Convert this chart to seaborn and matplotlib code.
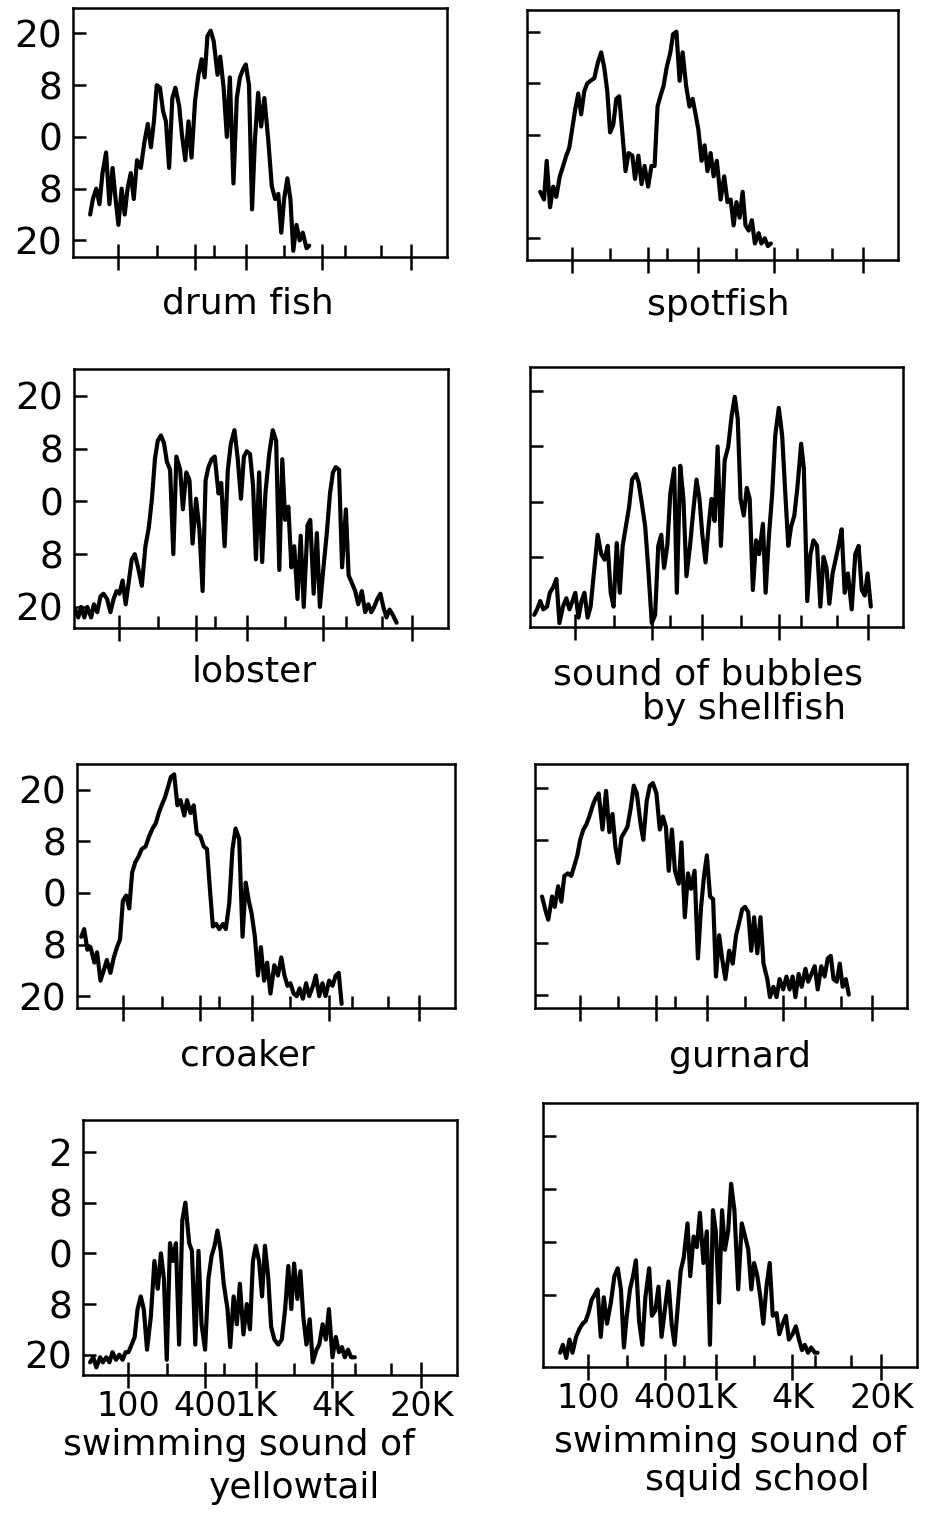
import matplotlib
matplotlib.use('Agg')
import matplotlib.pyplot as plt
from matplotlib.ticker import NullFormatter
import seaborn as sns

sns.set_theme(style='ticks')
plt.rcParams['font.family'] = ['DejaVu Sans']

# frequency grid (Hz), 1/40 decade steps, shared by all spectra
freq_hz = [45, 47.5, 50, 53, 56, 60, 63, 67, 71, 75, 80, 85, 90, 95,
           100, 106, 112, 118, 125, 132, 140, 150, 160, 170, 180, 190, 200, 212, 224, 236,
           250, 265, 280, 300, 315, 335, 355, 375, 400, 425, 450, 475, 500, 530, 560, 600,
           630, 670, 710, 750, 800, 850, 900, 950,
           1000, 1060, 1120, 1180, 1250, 1320, 1400, 1500, 1600, 1700, 1800, 1900, 2000, 2120,
           2240, 2360, 2500, 2650, 2800, 3000, 3150, 3350, 3550, 3750, 4000, 4250, 4500, 4750,
           5000, 5300, 5600, 6000, 6300, 6700, 7100, 7500, 8000, 8500, 9000, 9500,
           10000, 10600, 11200, 11800, 12500, 13200, 14000, 15000, 16000, 17000, 18000, 19000,
           20000, 21200]

# spectra (dB), each one starting at the given grid frequency
drum_start = 60
drum_db = [-15, -12, -10, -13, -7, -3, -13, -6, -12, -17,
           -10, -15, -10, -7, -12, -4.5, -6, -1, 2.5, -2,
           3, 10, 9.5, 5, 3, -6, 7.5, 9.5, 6, 0.5,
           -4.5, 3, -4, 7, 12, 15, 11.5, 19.5, 20.5, 18.5,
           12, 15.5, 9.5, 0, 11.5, -9, 7.5, 11.5, 13, 14,
           10, -14, -0.5, 8.5, 2, 7.5, -0.5, -9.5, -12, -11,
           -18.5, -12, -8, -12, -22, -17, -20, -18.5, -21.5, -21]

spot_start = 56
spot_db = [-11, -12.5, -5, -14, -10, -12, -8, -6, -4, -2.5,
           1, 5, 8, 4, 8.5, 10, 10.5, 11, 14, 16,
           13, 8.5, 0.5, 2, 7, 7.5, 0.5, -7, -3.5, -4,
           -8.5, -4, -9.5, -6, -10, -6, -6, 5.5, 7.5, 9.5,
           13, 16, 19.5, 20, 10.5, 16, 9.5, 5.5, 7, 4,
           1, -5, -2, -7, -3.5, -8, -5, -12.5, -8, -13,
           -12.5, -17.5, -13, -16, -11, -17.5, -18.5, -16.5, -21, -19,
           -21, -20, -21.5, -21]

lobster_start = 45
lobster_db = [-20.5, -22, -20, -22, -20, -22, -19.5, -21, -18, -17.5,
              -18.5, -21, -18.5, -17, -17.5, -15, -19.5, -15.5, -11, -10,
              -12.5, -16, -8.5, -5, 0.5, 8, 11.5, 12.5, 11, 7.5,
              6, -10, 8.5, 6, -1.5, 5.5, 4, -8, 0.5, -5.5,
              -17, 4, 6.5, 8, 8.5, 1.5, 3.5, -8.5, 6, 11,
              13.5, 8, 0.5, 8.5, 9.5, 9, 3, -11, 5.5, -11.5,
              1.5, 9, 13.5, 11.5, -13, 8, -3.5, -1, -12.5, -8.5,
              -18.5, -6.5, -20, -4.5, -3.5, -17.5, -6, -20, -12.5, -6,
              1.5, 5.5, 6.5, 6, -12.5, -1.5, -14, -15.5, -17, -19.5,
              -17, -21, -19.5, -21, -20, -18.5, -17.5, -20, -22, -20.5,
              -21.5, -23]

bubbles_start = 47.5
bubbles_db = [-20.5, -19.5, -18, -19.5, -19, -16.5, -15.5, -14, -22, -19,
              -17.5, -19.5, -18, -16.5, -21, -18, -16.5, -21, -19, -13,
              -6, -9.5, -10.5, -8, -16.5, -19, -7.5, -16.5, -8, -4.5,
              -1, 4, 5, 3.5, -0.5, -4.5, -12, -22, -20.5, -8,
              -6, -12, -8, 1.5, 6, -16.5, 6.5, 0.5, -13.5, -8,
              -1.5, 4, 0.5, -6, -11, -4.5, 0.5, -3.5, 10, -8,
              7.5, 10, 15.5, 19, 15, 0.5, -2.5, 2.5, 0.5, -16,
              -7, -9.5, -4, -16.5, -6, 1.5, 12, 17, 12, 1.5,
              -8, -4.5, -2.5, 2.5, 10.5, 6, -18, -9.5, -7, -8,
              -19, -10, -12, -18.5, -13, -10.5, -8, -5, -16.5, -13,
              -19.5, -9.5, -8, -16, -17, -13, -19]

croaker_start = 47.5
croaker_db = [-8.5, -7, -11, -10.5, -13.5, -11.5, -17, -15, -13, -15.5,
              -12.5, -10.5, -9, -1.5, -0.5, -3, 4, 6, 7, 8.5,
              9, 11, 12.5, 13.5, 15.5, 17, 18.5, 20.5, 22.5, 23,
              17, 18, 15, 18, 15.5, 17, 11.5, 11, 9, 8.5,
              0.5, -6.5, -6, -7, -6, -7, -2, 8.5, 12.5, 10.5,
              -8.5, 2, -1.5, -4, -8.5, -16, -10.5, -17, -13.5, -19.5,
              -14, -16, -12.5, -16, -18, -17.5, -19.5, -20, -18.5, -20.5,
              -17.5, -20, -18, -16, -20, -17.5, -20, -17, -18, -16,
              -15.5, -21.5]

gurnard_start = 50
gurnard_db = [-1, -3.5, -5.5, -1, -3, 1, -2, 3, 3.5, 3,
              5, 7, 10, 12, 13, 14.5, 16.5, 18, 19, 12,
              19.5, 11.5, 15, 8.5, 5.5, 10.5, 11.5, 12.5, 16, 20.5,
              19, 13, 10, 17.5, 20.5, 21, 19, 12, 14.5, 12.5,
              4, 12, 4, 1.5, 9.5, -5, 3.5, 0.5, 4, -13,
              -3, 3, 7, -1, -1.5, -16.5, -8.5, -13, -17, -11.5,
              -14, -8.5, -6, -3.5, -3, -4, -11.5, -5, -12, -5,
              -14, -17, -20.5, -18.5, -20.5, -17, -19, -16.5, -19, -16.5,
              -20.5, -16, -18.5, -15, -17.5, -16, -14.5, -19, -14.5, -16.5,
              -13, -12.5, -17, -17.5, -14, -18.5, -17, -20]

yellowtail_start = 50
yellowtail_db = [-21.5, -20.5, -22.5, -20.5, -21.5, -20.5, -21.5, -19.5, -21, -20,
                 -21, -19.5, -19.5, -18, -16.5, -11, -8.5, -11, -19, -12.5,
                 -1.5, -7, 0, -5, -21, 2, -1.5, 2, -18, 6.5,
                 10, 2, 0.5, -18, 0.5, -14, -19, -5, -0.5, 1.5,
                 4.5, 0.5, -6, -11, -18.5, -8.5, -14, -6, -16, -10,
                 -15, -1.5, 1.5, -1.5, -8.5, 1.5, -4.5, -14.5, -17, -18,
                 -17, -11, -2.5, -11, -2, -9, -3.5, -12.5, -18, -13,
                 -21.5, -19, -18, -14, -17, -11, -20.5, -16.5, -19.5, -18.5,
                 -20.5, -19, -20.5, -20.5]

squid_start = 60
squid_db = [-21, -19.5, -22, -18.5, -21, -18, -16.5, -15.5, -15, -13.5,
            -11, -10, -9, -18, -10.5, -15.5, -11.5, -6.5, -5, -9,
            -20, -14, -9, -6.5, -3.5, -15, -19.5, -10.5, -5, -14,
            -13, -8.5, -18, -12.5, -7.5, -15.5, -19.5, -13, -5.5, -3,
            3.5, -6.5, 1, -1, 5.5, -4, 2, -19.5, 6, 2,
            -11.5, 6, -1.5, 2, 11, 6, -9, 3.5, 1, -1.5,
            -9, -4, -6.5, -10.5, -15.5, -8.5, -4, -14, -13.5, -17.5,
            -15.5, -14, -18.5, -17.5, -16, -18.5, -20.5, -19.5, -21, -20,
            -21, -21]

# axis ticks and labels
x_major = [100, 400, 1000, 4000, 20000]
x_major_labels = ['100', '400', '1K', '4K', '20K']
x_minor = [200, 560, 2000, 6000, 11500]
y_ticks = [20, 10, 0, -10, -20]
y_labels = ['20', '8', '0', '8', '20']

W, H = 932, 1513
fig = plt.figure(figsize=(W / 100, H / 100), dpi=100)


def draw_panel(box, start_hz, db, ylim, yticks, ylabels, xlabels):
    left, top, right, bottom = box
    ax = fig.add_axes([left / W, 1 - bottom / H, (right - left) / W, (bottom - top) / H])
    i0 = freq_hz.index(start_hz)
    sns.lineplot(x=freq_hz[i0:i0 + len(db)], y=db, ax=ax, color='black',
                 linewidth=3.0, estimator=None, sort=False,
                 solid_joinstyle='round', solid_capstyle='round')
    ax.set_xscale('log')
    ax.set_xlim(44, 38000)
    ax.set_ylim(*ylim)
    ax.set_xlabel('')
    ax.set_ylabel('')

    ax.set_xticks(x_major)
    ax.set_xticks(x_minor, minor=True)
    ax.xaxis.set_minor_formatter(NullFormatter())
    if xlabels:
        ax.set_xticklabels(x_major_labels, fontsize=24)
    else:
        ax.set_xticklabels([])
    ax.set_yticks(yticks)
    if ylabels:
        ax.set_yticklabels(ylabels, fontsize=27)
    else:
        ax.set_yticklabels([])
    ax.tick_params(axis='x', which='major', direction='inout', length=19, width=1.8,
                   color='black', pad=1, labelcolor='black')
    ax.tick_params(axis='x', which='minor', direction='in', length=9, width=1.8, color='black')
    ax.tick_params(axis='y', direction='in', length=9, width=1.8, color='black',
                   pad=8, labelcolor='black')
    for spine in ax.spines.values():
        spine.set_visible(True)
        spine.set_color('black')
        spine.set_linewidth(1.8)
    return ax


# left column
draw_panel((73, 8, 447, 257), drum_start, drum_db, (-23.2, 24.9), y_ticks, y_labels, False)
draw_panel((74, 369, 448, 628), lobster_start, lobster_db, (-24, 25.1), y_ticks, y_labels, False)
draw_panel((77, 764, 455, 1008), croaker_start, croaker_db, (-22.3, 25), y_ticks, y_labels, False)
draw_panel((83, 1120, 457, 1375), yellowtail_start, yellowtail_db, (-24, 26.3), y_ticks,
           ['2', '8', '0', '8', '20'], True)

# right column
draw_panel((527, 10, 898, 260), spot_start, spot_db, (-24.2, 24.2), [20, 10, 0, -20], None, False)
draw_panel((530, 367, 903, 627), bubbles_start, bubbles_db, (-22.7, 24.4), [20, 10, 0, -10], None, False)
draw_panel((535, 764, 907, 1008), gurnard_start, gurnard_db, (-22.6, 24.7), [20, 10, -10, -20], None, False)
draw_panel((543, 1103, 917, 1367), squid_start, squid_db, (-23.7, 26.3), [20, 10, 0, -10], None, True)

# panel captions
captions = [
    (248, 313, 'drum fish'),
    (718, 315, 'spotfish'),
    (254, 682, 'lobster'),
    (708, 685, 'sound of bubbles'),
    (744, 719, 'by shellfish'),
    (247, 1065, 'croaker'),
    (740, 1067, 'gurnard'),
    (239, 1455, 'swimming sound of'),
    (295, 1498, 'yellowtail'),
    (730, 1452, 'swimming sound of'),
    (757, 1490, 'squid school'),
]
for x, y, label in captions:
    fig.text(x / W, 1 - y / H, label, ha='center', va='baseline', fontsize=26, color='black')

plt.savefig('out.png', dpi=100)
